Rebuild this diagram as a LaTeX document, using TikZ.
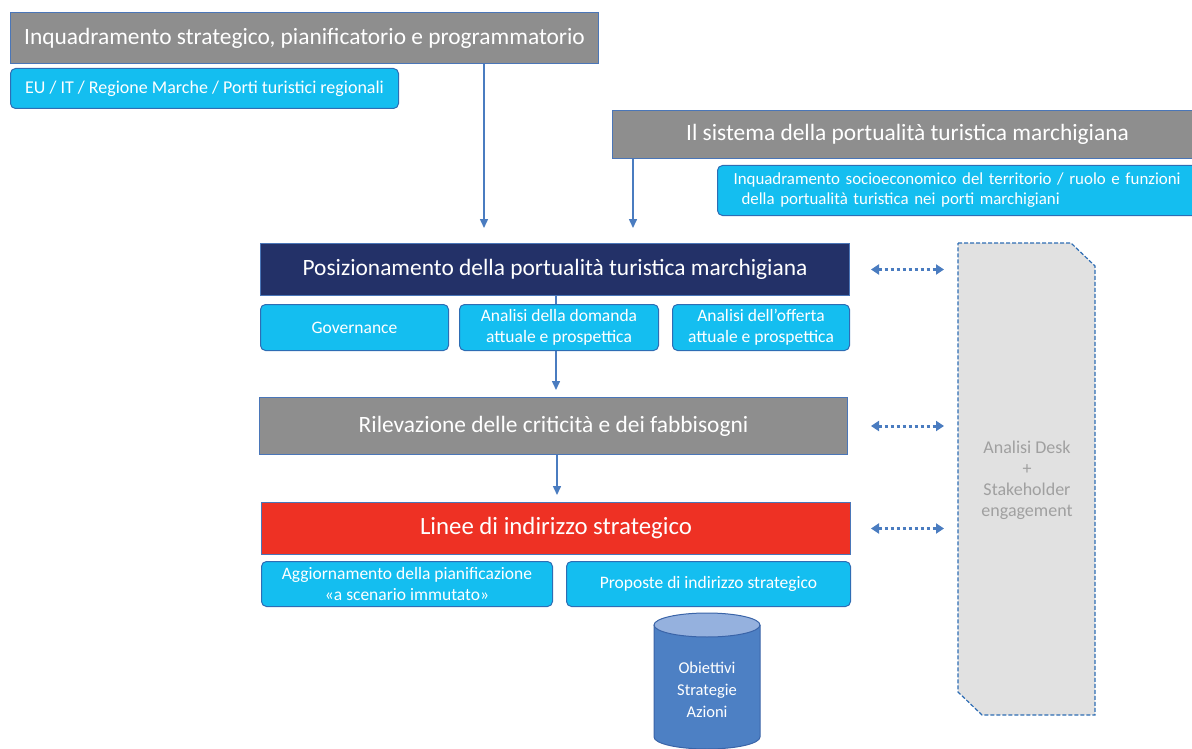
\documentclass[tikz,border=0pt]{standalone}
\usepackage{fontspec}
\setmainfont{Carlito}
\usetikzlibrary{arrows.meta}
\definecolor{hdrgray}{HTML}{8E8E8E}
\definecolor{bordblue}{HTML}{4A76B8}
\definecolor{cyanbox}{HTML}{14BEF0}
\definecolor{cyanbord}{HTML}{2E6DB4}
\definecolor{navy}{HTML}{233168}
\definecolor{redbox}{HTML}{EE3124}
\definecolor{arrblue}{HTML}{4A7CC0}
\definecolor{panelfill}{HTML}{E1E1E1}
\definecolor{paneltext}{HTML}{A0A0A0}
\definecolor{cylbody}{HTML}{4D80C4}
\definecolor{cyltop}{HTML}{95B1DE}
\definecolor{cylbord}{HTML}{3A64A8}
\begin{document}
\begin{tikzpicture}[x=1pt,y=-1pt,
  bigbox/.style={draw=bordblue, line width=1pt, text=white, inner sep=0pt, anchor=north west,
    font=\fontsize{23.4}{27}\selectfont},
  subbox/.style={draw=cyanbord, fill=cyanbox, line width=1pt, rounded corners=5pt, text=white,
    inner sep=0pt, anchor=north west, align=center, font=\fontsize{17.5}{21}\selectfont},
  arr/.style={draw=arrblue, line width=1.5pt, -{Triangle[length=9pt,width=8pt]}},
  darr/.style={draw=arrblue, line width=3pt, dash pattern=on 3pt off 3pt,
    {Triangle[length=8pt,width=10pt]}-{Triangle[length=8pt,width=10pt]}}
]
\useasboundingbox (0,0) rectangle (1192,749);

% top left header
\node[bigbox, fill=hdrgray, minimum width=588pt, minimum height=51pt] (inq) at (10,12)
  {Inquadramento strategico, pianificatorio e programmatorio};
\node[subbox, minimum width=388pt, minimum height=40pt, font=\fontsize{18}{21}\selectfont] (eu) at (10,68)
  {EU / IT / Regione Marche / Porti turistici regionali};

% top right header
\node[bigbox, fill=hdrgray, minimum width=590pt, minimum height=48pt] (sys) at (612,110)
  {Il sistema della portualità turistica marchigiana};
\node[subbox, minimum width=485pt, minimum height=50pt, align=left, text width=453pt, inner xsep=16pt,
  font=\fontsize{16.9}{20}\selectfont] (socio) at (717,165)
  {Inquadramento socioeconomico del territorio / ruolo e funzioni\\\hspace*{8pt}della portualità turistica nei porti marchigiani};

% free ends of the two top arrows
\coordinate (e1) at (484,228);
\coordinate (e2) at (633,228);
\draw[arr] (inq.south -| e1) -- (e1);
\draw[arr] (sys.south -| e2) -- (e2);

% Posizionamento
\node[bigbox, fill=navy, minimum width=589pt, minimum height=52pt] (pos) at (260,243)
  {Posizionamento della portualità turistica marchigiana};

\node[bigbox, fill=hdrgray, minimum width=588pt, minimum height=57pt] (ril) at (259,397)
  {Rilevazione delle criticità e dei fabbisogni};

\coordinate (e3) at (556,390);
\draw[arr] (pos.south -| e3) -- (e3);

\node[subbox, minimum width=188pt, minimum height=46pt] (gov) at (260,304) {Governance};
\node[subbox, minimum width=199pt, minimum height=46pt] (dom) at (459,304)
  {Analisi della domanda\\attuale e prospettica};
\node[subbox, minimum width=177pt, minimum height=46pt] (off) at (672,304)
  {Analisi dell’offerta\\attuale e prospettica};

% Linee
\node[bigbox, fill=redbox, minimum width=589pt, minimum height=52pt, font=\fontsize{24.8}{28}\selectfont] (lin) at (261,502)
  {Linee di indirizzo strategico};
\coordinate (e4) at (557,495);
\draw[arr] (ril.south -| e4) -- (e4);

\node[subbox, minimum width=291pt, minimum height=45pt] (agg) at (261,561)
  {Aggiornamento della pianificazione\\«a scenario immutato»};
\node[subbox, minimum width=284pt, minimum height=45pt] (prop) at (566,561)
  {Proposte di indirizzo strategico};

% cylinder
\fill[cylbody] (654,625) -- (654,737) arc[start angle=180, end angle=360, x radius=53pt, y radius=12pt] -- (760,625) -- cycle;
\draw[cylbord, line width=1pt] (654,625) -- (654,737) arc[start angle=180, end angle=360, x radius=53pt, y radius=12pt] -- (760,625);
\draw[cylbord, line width=1pt, fill=cyltop] (707,625) ellipse [x radius=53pt, y radius=12pt];
\node[text=white, align=center, font=\fontsize{16.5}{22}\selectfont] (cyl) at (707,690)
  {Obiettivi\\Strategie\\Azioni};

% side panel
\fill[panelfill] (958,243) -- (1071,243) -- (1095,266) -- (1095,715) -- (982,715) -- (958,692) -- cycle;
\draw[cyanbord, line width=1.2pt, dash pattern=on 4pt off 2pt] (958,243) -- (1071,243) -- (1095,266) -- (1095,715) -- (982,715) -- (958,692) -- cycle;
\node[text=paneltext, align=center, font=\fontsize{18}{21}\selectfont] (desk) at (1027,480)
  {Analisi Desk\\+\\Stakeholder\\engagement};
\coordinate (pw) at (944,0);

\draw[darr] ([xshift=21pt]pos.east) -- (pos.east -| pw);
\draw[darr] ([xshift=23pt]ril.east) -- (ril.east -| pw);
\draw[darr] ([xshift=20pt]lin.east) -- (lin.east -| pw);
\end{tikzpicture}
\end{document}
